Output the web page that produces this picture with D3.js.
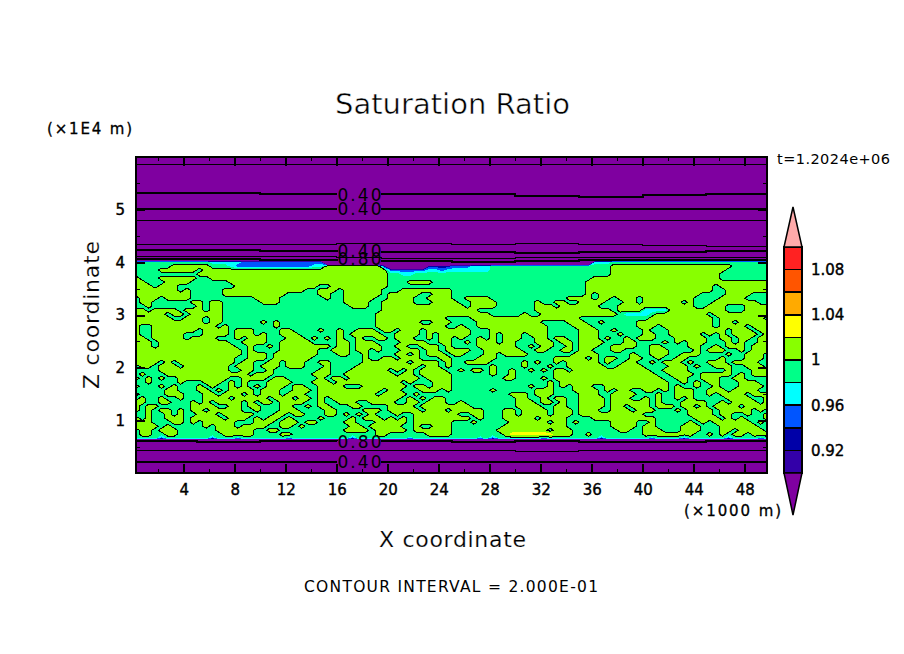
<!DOCTYPE html>
<html>
<head>
<meta charset="utf-8">
<script src="https://cdn.jsdelivr.net/npm/d3@7"></script>
<style>
  html, body { margin: 0; background: #fff; }
  svg { display: block; }
  text { font-family: "DejaVu Sans", sans-serif; fill: #000; }
</style>
</head>
<body>
<svg id="chart" width="904" height="654"></svg>
<script>
// colour levels of the shaded field
const levels = [0.9, 0.92, 0.94, 0.96, 0.98, 1, 1.02, 1.04, 1.06, 1.08, 1.1]
const levelColors = ['#3300a8', '#0000a8', '#0055ff', '#00ffff', '#00ff88', '#88ff00', '#ffff00', '#ffaa00', '#ff5500', '#ff2222']
const belowColor = '#7f00a0'
const aboveColor = '#ffaaaa'
const legendTicks = [0.92, 0.96, 1, 1.04, 1.08]

// what each letter in fieldRows stands for
const cellValues = { p: 0.7, n: 0.93, b: 0.95, c: 0.97, '.': 0.99, '#': 1.01, y: 1.03 }

// saturation ratio, one string per height, top row first
const fieldTopZ = 4.08
const fieldStepZ = 0.076
const fieldStartX = 0.25
const fieldStepX = 0.5
const fieldRows = [
  'pppppppppp pppppppppp pppppppppp pppppppppp pppppppppp pppppppppp pppppppppp pppppppppp pppppppppp pppppppppp',
  '.......... ..cccccbbb bbbbbbbbbb pppppppppp pppppppppp pppppppppp pppppppppp ppccc..... .......... ..........',
  '......#### ##...cbbbb bbbbbbbbcc #########n ppppppnnnn bbbccc.... .......... .....##### ########## ####......',
  '....###### .######### ########## ########## bbbbbbccbc cccccc.... .......... .....##### ########## ###.......',
  '.......... ########## ########## ########## ..cc...... .......... .......... .....##### ########## ##........',
  '#...###### ..######## ########## ########## .......... .......... .......... ..######## ########## ##........',
  '##...####. .....##### ########## ########## ...####... .......... .......... .######### ########## ##########',
  '###.###... ......#### #########. .######### .......... .......... .......... .######### ########## #.########',
  '#######.#. ....###### #######..# ##.######. ..######## .......... .......... .######### ########## #..#######',
  '#########. ....###### ####.....# #..######. #####..### .......... .......... .#.####### #########. ...####...',
  '.###.####. .........# ###....... #..#####.. ####..#### ..####.... ........## ##.##.###. ########.. ..####....',
  '.##......# #.##...... ###....... ...####..# ####...### #..####... ...#..##.. ####...##. ######.#.. .#######..',
  '..#....... #.##...... .......... ....###..# ########## ##.####... ...###.### ###...#### ########.. ###...####',
  '##.####.## #.##...... .......... .........# ########## ####...... ...####### #####.#### cccc###### ###...####',
  '#####.##.# ####...... .......... ........## ########## ######.... .#..###### ######.ccc c.######## .#########',
  '######..## #.##...... .......... ........## #########. ...####### ########## .......... .######### #.#######.',
  '########## #.##...... #.#....... ........## #####..### ....###### ####....## #..#.....# ########## #.##.#####',
  '#..####### ###.#..... ..#....... ........## #########. .#..###### #####....# ##.......# ##.####### #.####.###',
  '#..####### .####.###. ...##....# ..#..###.# #.###.#### ###...#### #####..... ###..#.... #...###### ###.###.##',
  '#..#####.. .####.###. #..###.... ..#.#####. .####.#.## ###...#.## #.###..... ###...#... ##..#####. #.#.####.#',
  '##.#####.# ###...#.## #...###.#. #.#..#..## .###..#.## .#..#.#.## #..##.##.. ###.#..#.# ##...##### ..##.##.##',
  '###.###### #####..### #..#####.. ..##.###.. ..####..## ..#.###.## ...###.##. ####...##. ...#.#.### ...#.#..##',
  '###.###### ######..#. .#.####### #.##.####. .##..###.# ....###### ..#.##..#. ###..####. .##....##. .#.###.###',
  '########## #######.#. ...######. .###.##.#. ..###.##.# ###..##### #..##..##. ##...##... .###....#. ###..#.###',
  '########## #######.## #.#######. ..##..#... .##.#.###. ##...##.## ##.......# ###.....#. .###..###. ...#..###.',
  '########## ######..## #.######.. ......#..# #.###...## ....###... ......#### #.#.##..## ..#..##... ..#...###.',
  '####.#.### ######.##. .##.###..# #.....#### ###.####.# ..####.... .#.#..#.## ###.#..##. .#.###.#.. ###.####..',
  '.##.###.## #####.###. ###.###... #....##### #####.##.# ......#... .#...#..## ####..#### ....###.#. .###..###.',
  '....###### #####..##. .#.......# #...###### .#.#.####. .#.##.#..# ..#.#.##.# ########## #..####... ...#...###',
  '.#...##### ########.# ##......## #..####### #.##.##### ......#..# ......#### ########## ##..####.# ####.#.###',
  '#.#.#..### #####..### #.##.....# .##.###### #####.#### ........## ....#.#### ########## ###..##..# ##..##....',
  '..#....#.. .###.#.#.. .####...## #.######## ##.#...### .......... .....#.### ########## ####..#.#. ##...###..',
  '#...#.#... #.#..#.#.# .###.##..# ###...#### ###.##.### .......... ..#..#.#.# ##..###### ####.#..#. .#...####.',
  '.....##... ##.#.####. ###..###.# #########. ##...###.# ......#... ...###...# ###.#.##.. ##.#.###.. ###.####..',
  '#....###.. .##.###.#. ###.###..# ########.# ###.#..... .........# ##.###.... ###..####. ..#..###.. #.####.###',
  '.#..#..#.. .####.#### #.###.##.# .######### ##.#.#.##. .......... ##..#.##.. ####.###.. #.#..#.#.. ...####..#',
  '##..##...# .#.####.#. ##.####..# ..###..### #..##.###. .#........ ###.##.#.. ####.##### #.#...#### ..#.####.#',
  '#.##.....# ###..##.## ...##..#.# #...##.... ####.##### ###....... ####..##.. ####.##.## #.###.##.# .####.####',
  '#.#.##.#.# #.#####..# ...###.... ##....###. #####.###. #####...## .####.###. ###..###.# ##...#.### #.#####.#.',
  '..#..#.#.. ###.#####. ..##.##... ##.#.#.#.. .#..###### #..##...## .####.###. ########## .......### #.##..#..#',
  '#.#..###.# ####.###.# .##.#....# ....#.###. #.#.###### ###.#...## ###.####.. ..######## ##......## ##.#.#...#',
  '###...##.# .#####...# ##.###.##. ...##...## ###.###### ...#.....# #####.##.# .....####. .#.....#.# .######.#.',
  '####.#.... .#.###.### #..##.#... ....##.### ##..#..### ........## ########.. .....####. ##....###. ..######..',
  '.##.###... ...######. .##....... ...####.## ###.###### .......### #####.###. ......##.. ###...###. ..##.####.',
  '.##..##... ....#####. ...##..... ........## ......#### ........#y yyyyyy###. .#........ ########.. #.#.##.###',
  '....b..... ..b...c... ....c..... ....b..... ...c...... ....c.b... ....c..... ...b...... .c....b... ...b....c.',
  'pppppppppp pppppppppp pppppppppp pppppppppp pppppppppp pppppppppp pppppppppp pppppppppp pppppppppp pppppppppp'
]

// contour lines in the dry layers: heights (z) along these x positions
const lineKnotsX = [0.25, 5, 10, 16, 19.5, 25, 30, 35, 40, 45, 49.75]
const lineHeights = [
  [5.867, 5.867, 5.867, 5.867, 5.867, 5.867, 5.867, 5.867, 5.867, 5.867, 5.867],
  [5.31, 5.31, 5.29, 5.29, 5.29, 5.29, 5.26, 5.24, 5.28, 5.30, 5.30],
  [5.02, 5.02, 5.02, 5.02, 5.02, 5.02, 5.02, 5.02, 5.02, 5.02, 5.02],
  [4.8, 4.8, 4.8, 4.8, 4.8, 4.8, 4.8, 4.8, 4.8, 4.8, 4.8],
  [4.34, 4.33, 4.33, 4.35, 4.35, 4.34, 4.36, 4.33, 4.32, 4.30, 4.30],
  [4.23, 4.23, 4.21, 4.20, 4.20, 4.19, 4.18, 4.20, 4.20, 4.22, 4.22],
  [4.12, 4.12, 4.11, 4.09, 4.08, 4.08, 4.09, 4.09, 4.09, 4.09, 4.12],
  [4.06, 4.06, 4.05, 4.03, 4.02, 4.01, 4.03, 4.05, 4.05, 4.05, 4.05],
  [0.6, 0.59, 0.61, 0.6, 0.6, 0.59, 0.6, 0.58, 0.59, 0.6, 0.6],
  [0.43, 0.43, 0.43, 0.43, 0.43, 0.43, 0.41, 0.43, 0.42, 0.43, 0.43],
  [0.21, 0.21, 0.21, 0.21, 0.21, 0.21, 0.21, 0.21, 0.21, 0.21, 0.21]
]
const lineThick = [false, true, true, false, false, true, false, true, true, false, true]
const lineGap = [false, true, true, false, false, true, false, true, true, false, true]

const labelTexts = ['0.40', '0.40', '0.40', '0.80', '0.80', '0.40']
const labelHeights = [5.29, 5.02, 4.22, 4.07, 0.6, 0.21]

const xTicks = [4, 8, 12, 16, 20, 24, 28, 32, 36, 40, 44, 48]
const xMinorTicks = [2, 6, 10, 14, 18, 22, 26, 30, 34, 38, 42, 46]
const zTicks = [1, 2, 3, 4, 5]
const zMinorTicks = [0.5, 1.5, 2.5, 3.5, 4.5, 5.5]

const svg = d3.select('#chart')
const x = d3.scaleLinear().domain([0.25, 49.75]).range([136, 767])
const z = d3.scaleLinear().domain([0, 6]).range([473, 157])

svg.append('clipPath').attr('id', 'plot-clip').append('rect')
  .attr('x', 136).attr('y', 157).attr('width', 631).attr('height', 316)

const plot = svg.append('g').attr('clip-path', 'url(#plot-clip)')

plot.append('rect')
  .attr('x', 136).attr('y', 157).attr('width', 631).attr('height', 316)
  .attr('fill', belowColor)

// field on a regular grid
const cleanRows = fieldRows.map((r) => r.replace(/ /g, ''))
const nCols = 100
const nRows = cleanRows.length
const values = []
cleanRows.forEach((r) => {
  const filled = r.padEnd(nCols, r[r.length - 1])
  for (let i = 0; i < nCols; i++) values.push(cellValues[filled[i]])
})

const gridPath = d3.geoPath(d3.geoTransform({
  point(gx, gy) {
    this.stream.point(
      x(fieldStartX + fieldStepX * (gx - 0.5)),
      z(fieldTopZ - fieldStepZ * (gy - 0.5))
    )
  },
}))

const contours = d3.contours().size([nCols, nRows])

plot.selectAll('path.band')
  .data(levels.slice(0, -1))
  .join('path')
  .attr('class', 'band')
  .attr('d', (d) => gridPath(contours.contour(values, d)))
  .attr('fill', (d, i) => levelColors[i])
  .attr('shape-rendering', 'crispEdges')

plot.append('path')
  .attr('d', gridPath(contours.contour(values, 1)))
  .attr('fill', 'none')
  .attr('stroke', '#000')
  .attr('stroke-width', 1)
  .attr('shape-rendering', 'crispEdges')

// dry layer contour lines, broken where a label sits
const lineGen = d3.line()
  .x((d) => x(d[0]))
  .y((d) => z(d[1]))
  .curve(d3.curveStepAfter)

lineHeights.forEach((heights, i) => {
  const pts = lineKnotsX.map((k, j) => [k, heights[j]])
  const parts = lineGap[i] ? [pts.slice(0, 4), pts.slice(4)] : [pts]
  parts.forEach((part) => {
    plot.append('path')
      .attr('d', lineGen(part))
      .attr('fill', 'none')
      .attr('stroke', '#000')
      .attr('stroke-width', lineThick[i] ? 2 : 1)
      .attr('shape-rendering', 'crispEdges')
  })
})

labelTexts.forEach((t, i) => {
  plot.append('text')
    .attr('x', 359.5)
    .attr('y', z(labelHeights[i]))
    .attr('dy', '0.36em')
    .attr('text-anchor', 'middle')
    .attr('font-size', 17)
    .attr('textLength', 44)
    .text(t)
})

// ticks on all four sides, pointing inward
function addAxis(axis, tx, ty, w) {
  const g = svg.append('g').attr('transform', `translate(${tx},${ty})`).call(axis)
  g.select('.domain').remove()
  g.selectAll('line').attr('stroke', '#000').attr('stroke-width', w).attr('shape-rendering', 'crispEdges')
  return g
}

const bottomAxis = addAxis(d3.axisBottom(x).tickValues(xTicks).tickSize(-9).tickPadding(11), 0, 473, 2)
addAxis(d3.axisTop(x).tickValues(xTicks).tickSize(-9).tickFormat(''), 0, 157, 2)
addAxis(d3.axisBottom(x).tickValues(xMinorTicks).tickSize(-4).tickFormat(''), 0, 473, 1)
addAxis(d3.axisTop(x).tickValues(xMinorTicks).tickSize(-4).tickFormat(''), 0, 157, 1)
const leftAxis = addAxis(d3.axisLeft(z).tickValues(zTicks).tickSize(-9).tickPadding(11).tickFormat(d3.format('d')), 136, 0, 2)
addAxis(d3.axisRight(z).tickValues(zTicks).tickSize(-9).tickFormat(''), 767, 0, 2)
addAxis(d3.axisLeft(z).tickValues(zMinorTicks).tickSize(-4).tickFormat(''), 136, 0, 1)
addAxis(d3.axisRight(z).tickValues(zMinorTicks).tickSize(-4).tickFormat(''), 767, 0, 1)

bottomAxis.selectAll('text').attr('font-size', 15).attr('font-family', '"DejaVu Sans"').attr('stroke', '#000').attr('stroke-width', 0.4)
leftAxis.selectAll('text').attr('font-size', 15).attr('font-family', '"DejaVu Sans"').attr('stroke', '#000').attr('stroke-width', 0.4)

svg.append('rect')
  .attr('x', 136).attr('y', 157).attr('width', 631).attr('height', 316)
  .attr('fill', 'none').attr('stroke', '#000').attr('stroke-width', 2.5)
  .attr('shape-rendering', 'crispEdges')

// colour bar
const bar = d3.scaleLinear().domain([0.9, 1.1]).range([473, 247])
const barLeft = 784
const barRight = 802
const barMid = (barLeft + barRight) / 2

svg.selectAll('rect.cell')
  .data(levels.slice(0, -1))
  .join('rect')
  .attr('class', 'cell')
  .attr('x', barLeft)
  .attr('width', barRight - barLeft)
  .attr('y', (d, i) => bar(levels[i + 1]))
  .attr('height', (d, i) => bar(d) - bar(levels[i + 1]))
  .attr('fill', (d, i) => levelColors[i])
  .attr('stroke', '#000')
  .attr('stroke-width', 1.5)
  .attr('shape-rendering', 'crispEdges')

svg.append('path')
  .attr('d', `M${barLeft},247 L${barMid},207 L${barRight},247 Z`)
  .attr('fill', aboveColor).attr('stroke', '#000').attr('stroke-width', 1.5)
svg.append('path')
  .attr('d', `M${barLeft},473 L${barMid},515 L${barRight},473 Z`)
  .attr('fill', belowColor).attr('stroke', '#000').attr('stroke-width', 1.5)

svg.selectAll('text.legend')
  .data(legendTicks)
  .join('text')
  .attr('class', 'legend')
  .attr('x', 811)
  .attr('y', (d) => bar(d))
  .attr('dy', '0.36em')
  .attr('font-size', 15)
  .attr('stroke', '#000')
  .attr('stroke-width', 0.4)
  .text((d) => (d === 1 ? '1' : d3.format('.2f')(d)))

// titles and notes
function addText(t, px, py, size, len) {
  return svg.append('text')
    .attr('x', px).attr('y', py)
    .attr('font-size', size)
    .attr('textLength', len)
    .text(t)
}

addText('Saturation Ratio', 335, 114, 29, 235).attr('stroke', '#fff').attr('stroke-width', 0.5)
addText('(×1E4 m)', 47, 134, 15, 85).attr('stroke', '#000').attr('stroke-width', 0.3)
addText('t=1.2024e+06', 777, 164, 14.5, 113)
addText('(×1000 m)', 684, 516, 15, 97).attr('stroke', '#000').attr('stroke-width', 0.3)
addText('X coordinate', 379, 547, 22, 147).attr('stroke', '#fff').attr('stroke-width', 0.2)
addText('CONTOUR INTERVAL = 2.000E-01', 304, 592, 15.5, 294)
svg.append('text')
  .attr('transform', 'translate(99,389) rotate(-90)')
  .attr('font-size', 22)
  .attr('textLength', 148)
  .attr('stroke', '#fff')
  .attr('stroke-width', 0.2)
  .text('Z coordinate')
</script>
</body>
</html>
